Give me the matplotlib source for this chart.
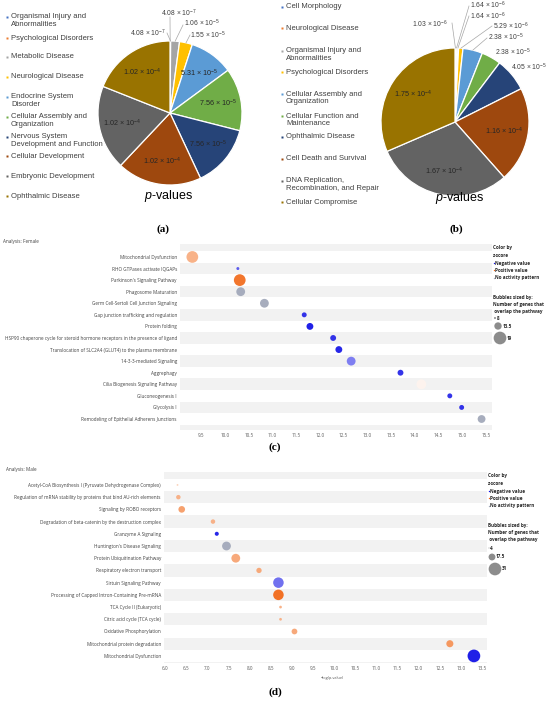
import numpy as np
import matplotlib
matplotlib.use("Agg")
import matplotlib.pyplot as plt
from matplotlib.colors import to_rgb

plt.rcParams['font.family'] = ['Liberation Sans', 'DejaVu Sans']
plt.rcParams['mathtext.fontset'] = 'custom'
plt.rcParams['mathtext.rm'] = 'Liberation Sans'
plt.rcParams['mathtext.it'] = 'Liberation Sans:italic'
plt.rcParams['mathtext.bf'] = 'Liberation Sans:bold'

# ---------------- data ----------------
a_categories = ["Organismal Injury and\nAbnormalities", "Psychological Disorders", "Metabolic Disease",
                "Neurological Disease", "Endocrine System\nDisorder", "Cellular Assembly and\nOrganization",
                "Nervous System\nDevelopment and Function", "Cellular Development",
                "Embryonic Development", "Ophthalmic Disease"]
a_pvalues = [4.08e-7, 4.08e-7, 1.06e-5, 1.55e-5, 5.31e-5, 7.56e-5, 7.56e-5, 1.02e-4, 1.02e-4, 1.02e-4]

b_categories = ["Cell Morphology", "Neurological Disease", "Organismal Injury and\nAbnormalities",
                "Psychological Disorders", "Cellular Assembly and\nOrganization",
                "Cellular Function and\nMaintenance", "Ophthalmic Disease", "Cell Death and Survival",
                "DNA Replication,\nRecombination, and Repair", "Cellular Compromise"]
b_pvalues = [1.03e-6, 1.64e-6, 1.64e-6, 5.29e-6, 2.38e-5, 2.38e-5, 4.05e-5, 1.16e-4, 1.67e-4, 1.75e-4]

female_pathways = ["Mitochondrial Dysfunction", "RHO GTPases activate IQGAPs", "Parkinson's Signaling Pathway",
                   "Phagosome Maturation", "Germ Cell-Sertoli Cell Junction Signaling",
                   "Gap junction trafficking and regulation", "Protein folding",
                   "HSP90 chaperone cycle for steroid hormone receptors in the presence of ligand",
                   "Translocation of SLC2A4 (GLUT4) to the plasma membrane", "14-3-3-mediated Signaling",
                   "Aggrephagy", "Cilia Biogenesis Signaling Pathway", "Gluconeogenesis I", "Glycolysis I",
                   "Remodeling of Epithelial Adherens Junctions"]
female_logp = [9.31, 10.27, 10.31, 10.33, 10.83, 11.67, 11.79, 12.28, 12.40, 12.66, 13.70, 14.14, 14.74, 14.99, 15.41]
female_genes = [18, 9, 18, 15, 15, 11, 13, 12, 13, 15, 12, 16, 11, 11, 14]
female_z = [1.8, -2.4, 3.2, np.nan, np.nan, -3.0, -3.4, -3.0, -3.2, -1.9, -3.0, 0.25, -3.0, -3.0, np.nan]

male_pathways = ["Acetyl-CoA Biosynthesis I (Pyruvate Dehydrogenase Complex)",
                 "Regulation of mRNA stability by proteins that bind AU-rich elements",
                 "Signaling by ROBO receptors", "Degradation of beta-catenin by the destruction complex",
                 "Granzyme A Signaling", "Huntington's Disease Signaling", "Protein Ubiquitination Pathway",
                 "Respiratory electron transport", "Sirtuin Signaling Pathway",
                 "Processing of Capped Intron-Containing Pre-mRNA", "TCA Cycle II (Eukaryotic)",
                 "Citric acid cycle (TCA cycle)", "Oxidative Phosphorylation",
                 "Mitochondrial protein degradation", "Mitochondrial Dysfunction"]
male_logp = [6.29, 6.31, 6.39, 7.13, 7.22, 7.45, 7.67, 8.22, 8.68, 8.68, 8.73, 8.73, 9.06, 12.74, 13.31]
male_genes = [6, 12, 17, 12, 11, 22, 22, 14, 26, 26, 8, 8, 15, 18, 31]
male_z = [1.0, 1.8, 2.2, 1.8, -3.2, np.nan, 2.0, 2.0, -2.1, 3.3, 1.8, 1.8, 2.0, 2.4, -3.5]

female_size_legend = [8, 13.5, 19]
male_size_legend = [4, 17.5, 31]

# ---------------- figure ----------------
W, H, DPI = 550, 701, 100
fig = plt.figure(figsize=(W / DPI, H / DPI), dpi=DPI)


def rect(x0, y0, x1, y1):
    return [x0 / W, 1 - y1 / H, (x1 - x0) / W, (y1 - y0) / H]


OFFICE = ["#4472C4", "#ED7D31", "#A5A5A5", "#FFC000", "#5B9BD5",
          "#70AD47", "#264478", "#9E480E", "#636363", "#997300"]


def sci(v):
    e = int(np.floor(np.log10(v)))
    m = v / 10 ** e
    return f"{m:.2f} × 10$^{{{e}}}$"


def draw_pie(cx, cy, r, values, inside, outside):
    ax = fig.add_axes(rect(cx - r, cy - r, cx + r, cy + r))
    wedges, _ = ax.pie(values, colors=OFFICE, startangle=90, counterclock=False,
                       wedgeprops=dict(edgecolor='white', linewidth=0.9))
    ax.set_xlim(-1, 1)
    ax.set_ylim(-1, 1)
    ax.set_aspect('equal')
    ax.axis('off')

    def to_data(px, py):
        return (px - cx) / r, (cy - py) / r

    for i, w in enumerate(wedges):
        th = np.deg2rad((w.theta1 + w.theta2) / 2)
        if i in inside:
            ax.text(0.68 * np.cos(th), 0.68 * np.sin(th), sci(values[i]), ha='center', va='center',
                    fontsize=5.2, color='#262626')
        elif i in outside:
            (tx, ty), start = outside[i]
            x, y = to_data(tx, ty)
            ax.text(x, y, sci(values[i]), ha='center', va='center', fontsize=4.9,
                    color='#404040', clip_on=False)
            if start is not None:
                sx, sy = to_data(*start)
                ax.plot([sx, np.cos(th)], [sy, np.sin(th)], color='#A6A6A6', lw=0.5, clip_on=False)
    return ax


draw_pie(170, 113, 72, a_pvalues, inside=[4, 5, 6, 7, 8, 9],
         outside={0: ((179, 13), (170, 17)), 1: ((148, 33), (167, 33)),
                  2: ((202, 23), (183, 25)), 3: ((208, 35), (190, 35))})
draw_pie(455, 122, 74, b_pvalues, inside=[7, 8, 9],
         outside={0: ((430, 24), (452, 23)), 1: ((488, 5.5), (469, 6)), 2: ((488, 16), (469, 16)),
                  3: ((511, 26), (492, 26)), 4: ((506, 37.5), (487, 38)),
                  5: ((513, 52), None), 6: ((529, 67), None)})


# ---------------- bubble panels ----------------
def blend(base, t):
    b = np.array(to_rgb(base))
    return tuple(1 - t * (1 - b))


def z_color(z):
    if np.isnan(z):
        return '#A2A9BA'
    t = min(abs(z) / 3.3, 1.0)
    return blend('#1414E6' if z < 0 else '#F26A1A', max(t, 0.06))


def bubble_panel(px_rect, names, logp, genes, zs, xlim, ylim, xticks, size_leg, d_range):
    ax = fig.add_axes(rect(*px_rect))
    n = len(names)
    rows = np.arange(n)
    for i in range(-1, n + 2, 2):
        ax.axhspan(i - 0.5, i + 0.5, color='#F2F2F2', zorder=0, lw=0)
    g = np.asarray(genes, float)
    d = d_range[0] + (g - size_leg[0]) * (d_range[1] - d_range[0]) / (size_leg[-1] - size_leg[0])
    ax.scatter(logp, rows, s=(d * 72 / DPI) ** 2, c=[z_color(z) for z in zs],
               edgecolors='none', zorder=3, alpha=0.95)
    ax.set_xlim(*xlim)
    ax.set_ylim(*ylim)
    ax.set_yticks(rows)
    ax.set_yticklabels(names, family=['Open Sans', 'DejaVu Sans'], fontsize=3.3, color='#404040')
    ax.set_xticks(xticks)
    ax.set_xticklabels([f"{t:.1f}" for t in xticks], family=['Open Sans', 'DejaVu Sans'],
                       fontsize=3.3, color='#595959')
    ax.tick_params(axis='both', length=0, pad=2.2)
    for s in ax.spines.values():
        s.set_visible(False)
    return ax


bubble_panel((180, 244, 492, 430), female_pathways, female_logp, female_genes, female_z,
             (9.05, 15.63), (14.95, -1.12), np.arange(9.5, 15.51, 0.5), female_size_legend, (2.0, 12.7))
axd = bubble_panel((164, 472, 487, 663), male_pathways, male_logp, male_genes, male_z,
                   (5.97, 13.62), (14.58, -1.06), np.arange(6.0, 13.51, 0.5), male_size_legend, (1.0, 12.7))

# ---------------- overlay (legends, labels) ----------------
ov = fig.add_axes([0, 0, 1, 1])
ov.set_xlim(0, W)
ov.set_ylim(H, 0)
ov.axis('off')
ov.set_zorder(10)

LEG_COL = '#404040'


def pie_legend(xm, xt, ys, cats):
    for y, cat, col in zip(ys, cats, OFFICE):
        ov.plot([xm], [y], marker='s', ms=1.9, color=col, mec='none')
        for k, line in enumerate(cat.split('\n')):
            ov.text(xt, y + k * 7.4, line, fontsize=5.5, color=LEG_COL, va='center', ha='left')


pie_legend(7, 11, [17, 38, 57, 77, 97, 117, 137, 156, 176, 196], a_categories)
pie_legend(282, 286, [7, 28, 51, 72, 94, 116, 137, 159, 181, 202], b_categories)

ov.text(169, 196, "$p$-values", fontsize=9, ha='center', va='center', color='#000000')
ov.text(460, 198, "$p$-values", fontsize=9, ha='center', va='center', color='#000000')

for lab, (x, y) in {"(a)": (163, 229), "(b)": (456, 229), "(c)": (275, 447), "(d)": (275, 692)}.items():
    ov.text(x, y, lab, family=['Liberation Serif', 'DejaVu Serif'], fontweight='bold', fontsize=8,
            ha='center', va='center', color='#000000')

SMALL = dict(family=['Open Sans', 'DejaVu Sans'], fontsize=3.3, va='center', ha='left')
ov.text(3, 241, "Analysis: Female", color='#404040', **SMALL)
ov.text(6, 469, "Analysis: Male", color='#404040', **SMALL)
ov.text(332, 678, "−log(p-value)", color='#595959', family=['Open Sans', 'DejaVu Sans'],
        fontsize=2.8, ha='center', va='center')


def bubble_legend(x, y0, size_leg, d_range, circ_rows, num_rows):
    B = dict(family=['Open Sans', 'DejaVu Sans'], fontsize=3.3, va='center', ha='left',
             fontweight='bold', color='#262626')
    ov.text(x, y0, "Color by", **B)
    ov.text(x, y0 + 7.5, "z-score", **B)
    for k, (lab, col) in enumerate([("Negative value", '#1414E6'), ("Positive value", '#F26A1A'),
                                    ("No activity pattern", '#A2A9BA')]):
        yy = y0 + 15 + k * 7.3
        ov.plot([x + 0.6], [yy], marker='o', ms=1.0, color=col, mec='none')
        ov.text(x + 1.8, yy, lab, **B)
    yb = y0 + 49
    ov.text(x, yb, "Bubbles sized by:", **B)
    ov.text(x, yb + 7.3, "Number of genes that", **B)
    ov.text(x, yb + 14.6, " overlap the pathway", **B)
    for v, (cxp, cyp), (tx, ty) in zip(size_leg, circ_rows, num_rows):
        d = d_range[0] + (v - size_leg[0]) * (d_range[1] - d_range[0]) / (size_leg[-1] - size_leg[0])
        ov.scatter([cxp], [cyp], s=(d * 72 / DPI) ** 2, color='#8C8C8C', edgecolors='none')
        ov.text(tx, ty, f"{v:g}", **B)


bubble_legend(493, 248, female_size_legend, (2.0, 12.7),
              [(495, 318), (498, 326), (500, 338)], [(497, 318), (503, 326), (507, 338)])
bubble_legend(488, 476, male_size_legend, (1.0, 12.7),
              [(489, 548), (492, 557), (495, 569)], [(490, 548), (496, 557), (502, 569)])

fig.savefig("out.png", dpi=DPI)
